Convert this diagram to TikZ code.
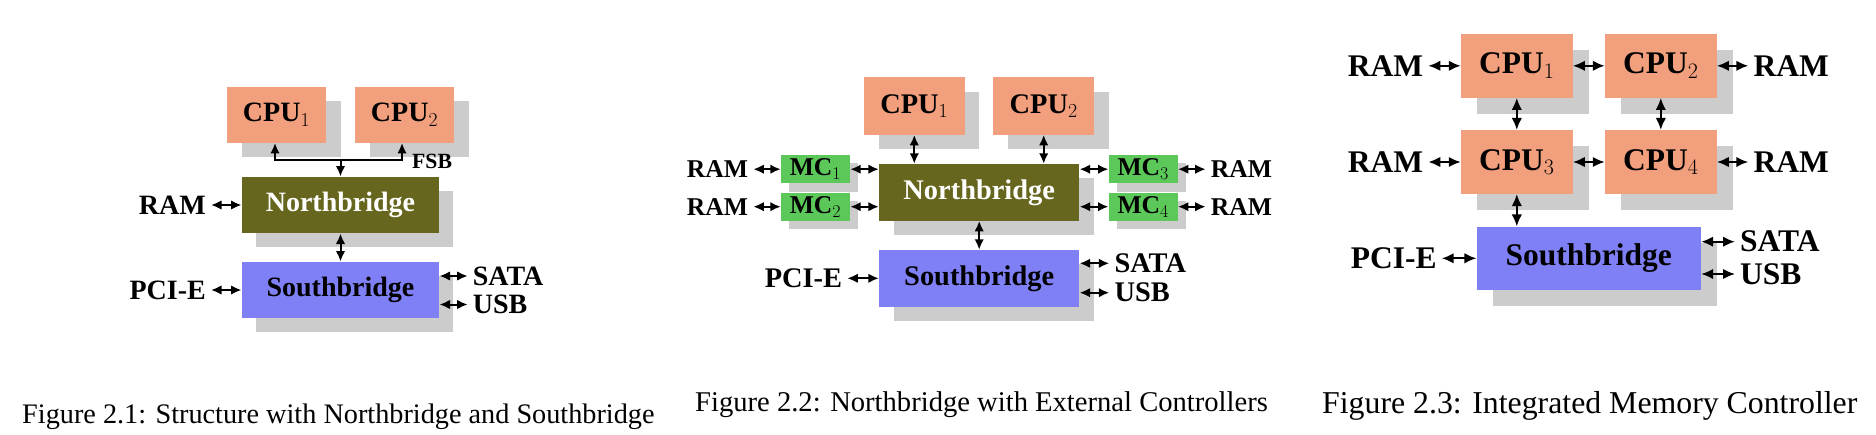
\RequirePackage{fix-cm}
\documentclass[tikz,border=0pt]{standalone}
\usepackage[no-math]{fontspec}
\setmainfont{Liberation Serif}
\usetikzlibrary{arrows.meta,shadows}
\definecolor{cpuc}{RGB}{241,159,125}
\definecolor{nbc}{RGB}{102,102,30}
\definecolor{sbc}{RGB}{127,127,246}
\definecolor{mcc}{RGB}{93,200,90}
\definecolor{shc}{RGB}{204,204,204}
\newcommand\fA{\fontsize{28}{32}\selectfont\bfseries}
\newcommand\fB{\fontsize{28.4}{32}\selectfont\bfseries}
\newcommand\fBs{\fontsize{25.6}{30}\selectfont\bfseries}
\newcommand\fC{\fontsize{31.5}{36}\selectfont\bfseries}
\tikzset{
  box/.style n args={3}{rectangle, inner sep=0pt, draw=none,
    minimum width=#1, minimum height=#2,
    drop shadow={opacity=1, fill=shc, shadow xshift=#3, shadow yshift=-#3}},
  lbl/.style={inner xsep=5pt, inner ysep=0pt},
  arr/.style={line width=2pt, {Latex[length=10.5pt,width=9.5pt]}-{Latex[length=10.5pt,width=9.5pt]}},
  arrone/.style={line width=2pt, -{Latex[length=10.5pt,width=9.5pt]}},
  arrc/.style={line width=2.1pt, {Latex[length=12pt,width=10.5pt]}-{Latex[length=12pt,width=10.5pt]}},
  capt/.style={anchor=base west, inner sep=0pt}
}
\begin{document}
\begin{tikzpicture}[x=1pt,y=-1pt]
\useasboundingbox[fill=white] (0,0) rectangle (1876,434);

% ---------------- Figure 2.1 ----------------
\begin{scope}[every node/.append style={font=\fA}]
\node[box={99pt}{56pt}{14.5pt}, fill=cpuc] (a-cpu1) at (276.5,114.7) {CPU$_1$};
\node[box={99pt}{56pt}{14.5pt}, fill=cpuc] (a-cpu2) at (404.5,114.7) {CPU$_2$};
\node[box={197.6pt}{56.6pt}{14pt}, fill=nbc, text=white] (a-nb) at (340.5,205) {Northbridge};
\node[box={197.6pt}{56.6pt}{14pt}, fill=sbc] (a-sb) at (340.5,290) {Southbridge};
\coordinate (a-busL) at (275,160);
\coordinate (a-busR) at (402,160);
\node[anchor=west, inner sep=0pt, font=\fontsize{21.7}{24}\selectfont\bfseries] (a-fsb) at (412,161) {FSB};
\node[lbl, anchor=east] (a-ram) at (211,205) {RAM};
\node[lbl, anchor=east] (a-pci) at (211,290) {PCI-E};
\node[lbl, anchor=west] (a-sata) at (467.7,276) {SATA};
\node[lbl, anchor=west] (a-usb) at (467.7,304.5) {USB};
\end{scope}
\draw[arr] (a-cpu1.south -| a-busL) -- (a-busL) -- (a-busR) -- (a-busR |- a-cpu2.south);
\draw[arrone] (a-nb.north |- a-busL) -- (a-nb.north);
\draw[arr] (a-nb.south) -- (a-sb.north);
\draw[arr] (a-ram.east) -- (a-nb.west);
\draw[arr] (a-pci.east) -- (a-sb.west);
\draw[arr] (a-sata.west) -- (a-sata.west -| a-sb.east);
\draw[arr] (a-usb.west) -- (a-usb.west -| a-sb.east);
\node[capt, font=\fontsize{28.25}{32}\selectfont] (a-cap) at (22,423.5) {Figure 2.1: Structure with Northbridge and Southbridge};

% ---------------- Figure 2.2 ----------------
\begin{scope}[every node/.append style={font=\fB}]
\node[box={100.7pt}{57.4pt}{14.7pt}, fill=cpuc] (b-cpu1) at (914.3,106) {CPU$_1$};
\node[box={100.7pt}{57.4pt}{14.7pt}, fill=cpuc] (b-cpu2) at (1043.7,106) {CPU$_2$};
\node[box={200.3pt}{56.7pt}{14.5pt}, fill=nbc, text=white] (b-nb) at (979.2,192.3) {Northbridge};
\node[box={200.3pt}{56.7pt}{14.5pt}, fill=sbc] (b-sb) at (979.2,278.3) {Southbridge};
\node[box={69pt}{28.2pt}{8.3pt}, fill=mcc, font=\fBs] (b-mc1) at (815.5,169.2) {MC$_1$};
\node[box={69pt}{28.2pt}{8.3pt}, fill=mcc, font=\fBs] (b-mc2) at (815.5,206.7) {MC$_2$};
\node[box={69pt}{28.2pt}{8.3pt}, fill=mcc, font=\fBs] (b-mc3) at (1143.2,169.2) {MC$_3$};
\node[box={69pt}{28.2pt}{8.3pt}, fill=mcc, font=\fBs] (b-mc4) at (1143.2,206.7) {MC$_4$};
\node[lbl, anchor=east, font=\fBs] (b-ram1) at (753.3,169.2) {RAM};
\node[lbl, anchor=east, font=\fBs] (b-ram2) at (753.3,206.7) {RAM};
\node[lbl, anchor=west, font=\fBs] (b-ram3) at (1205.7,169.2) {RAM};
\node[lbl, anchor=west, font=\fBs] (b-ram4) at (1205.7,206.7) {RAM};
\node[lbl, anchor=east] (b-pci) at (847.3,278.3) {PCI-E};
\node[lbl, anchor=west] (b-sata) at (1109.3,263.3) {SATA};
\node[lbl, anchor=west] (b-usb) at (1109.3,292.7) {USB};
\end{scope}
\draw[arr] (b-cpu1.south) -- (b-cpu1.south |- b-nb.north);
\draw[arr] (b-cpu2.south) -- (b-cpu2.south |- b-nb.north);
\draw[arr] (b-nb.south) -- (b-sb.north);
\draw[arr] (b-ram1.east) -- (b-mc1.west);
\draw[arr] (b-ram2.east) -- (b-mc2.west);
\draw[arr] (b-mc3.east) -- (b-ram3.west);
\draw[arr] (b-mc4.east) -- (b-ram4.west);
\draw[arr] (b-mc1.east) -- (b-mc1.east -| b-nb.west);
\draw[arr] (b-mc2.east) -- (b-mc2.east -| b-nb.west);
\draw[arr] (b-mc3.west) -- (b-mc3.west -| b-nb.east);
\draw[arr] (b-mc4.west) -- (b-mc4.west -| b-nb.east);
\draw[arr] (b-pci.east) -- (b-sb.west);
\draw[arr] (b-sata.west) -- (b-sata.west -| b-sb.east);
\draw[arr] (b-usb.west) -- (b-usb.west -| b-sb.east);
\node[capt, font=\fontsize{28.6}{32}\selectfont] (b-cap) at (695,411) {Figure 2.2: Northbridge with External Controllers};

% ---------------- Figure 2.3 ----------------
\begin{scope}[every node/.append style={font=\fC}]
\node[box={111.7pt}{63.7pt}{16pt}, fill=cpuc] (c-cpu1) at (1516.8,65.8) {CPU$_1$};
\node[box={111.7pt}{63.7pt}{16pt}, fill=cpuc] (c-cpu2) at (1660.8,65.8) {CPU$_2$};
\node[box={111.7pt}{63.7pt}{16pt}, fill=cpuc] (c-cpu3) at (1516.8,162) {CPU$_3$};
\node[box={111.7pt}{63.7pt}{16pt}, fill=cpuc] (c-cpu4) at (1660.8,162) {CPU$_4$};
\node[box={224.3pt}{63.3pt}{16pt}, fill=sbc] (c-sb) at (1588.8,258.3) {Southbridge};
\node[lbl, anchor=east] (c-ram1) at (1428.3,65.8) {RAM};
\node[lbl, anchor=east] (c-ram3) at (1428.3,162) {RAM};
\node[lbl, anchor=west] (c-ram2) at (1748.3,65.8) {RAM};
\node[lbl, anchor=west] (c-ram4) at (1748.3,162) {RAM};
\node[lbl, anchor=east] (c-pci) at (1441.7,258.3) {PCI-E};
\node[lbl, anchor=west] (c-sata) at (1735,241.7) {SATA};
\node[lbl, anchor=west] (c-usb) at (1735,274) {USB};
\end{scope}
\draw[arrc] (c-ram1.east) -- (c-cpu1.west);
\draw[arrc] (c-ram3.east) -- (c-cpu3.west);
\draw[arrc] (c-cpu2.east) -- (c-ram2.west);
\draw[arrc] (c-cpu4.east) -- (c-ram4.west);
\draw[arrc] (c-cpu1.east) -- (c-cpu2.west);
\draw[arrc] (c-cpu3.east) -- (c-cpu4.west);
\draw[arrc] (c-cpu1.south) -- (c-cpu3.north);
\draw[arrc] (c-cpu2.south) -- (c-cpu4.north);
\draw[arrc] (c-cpu3.south) -- (c-cpu3.south |- c-sb.north);
\draw[arrc] (c-pci.east) -- (c-sb.west);
\draw[arrc] (c-sata.west) -- (c-sata.west -| c-sb.east);
\draw[arrc] (c-usb.west) -- (c-usb.west -| c-sb.east);
\node[capt, font=\fontsize{31.8}{36}\selectfont] (c-cap) at (1322,413) {Figure 2.3: Integrated Memory Controller};
\end{tikzpicture}
\end{document}
